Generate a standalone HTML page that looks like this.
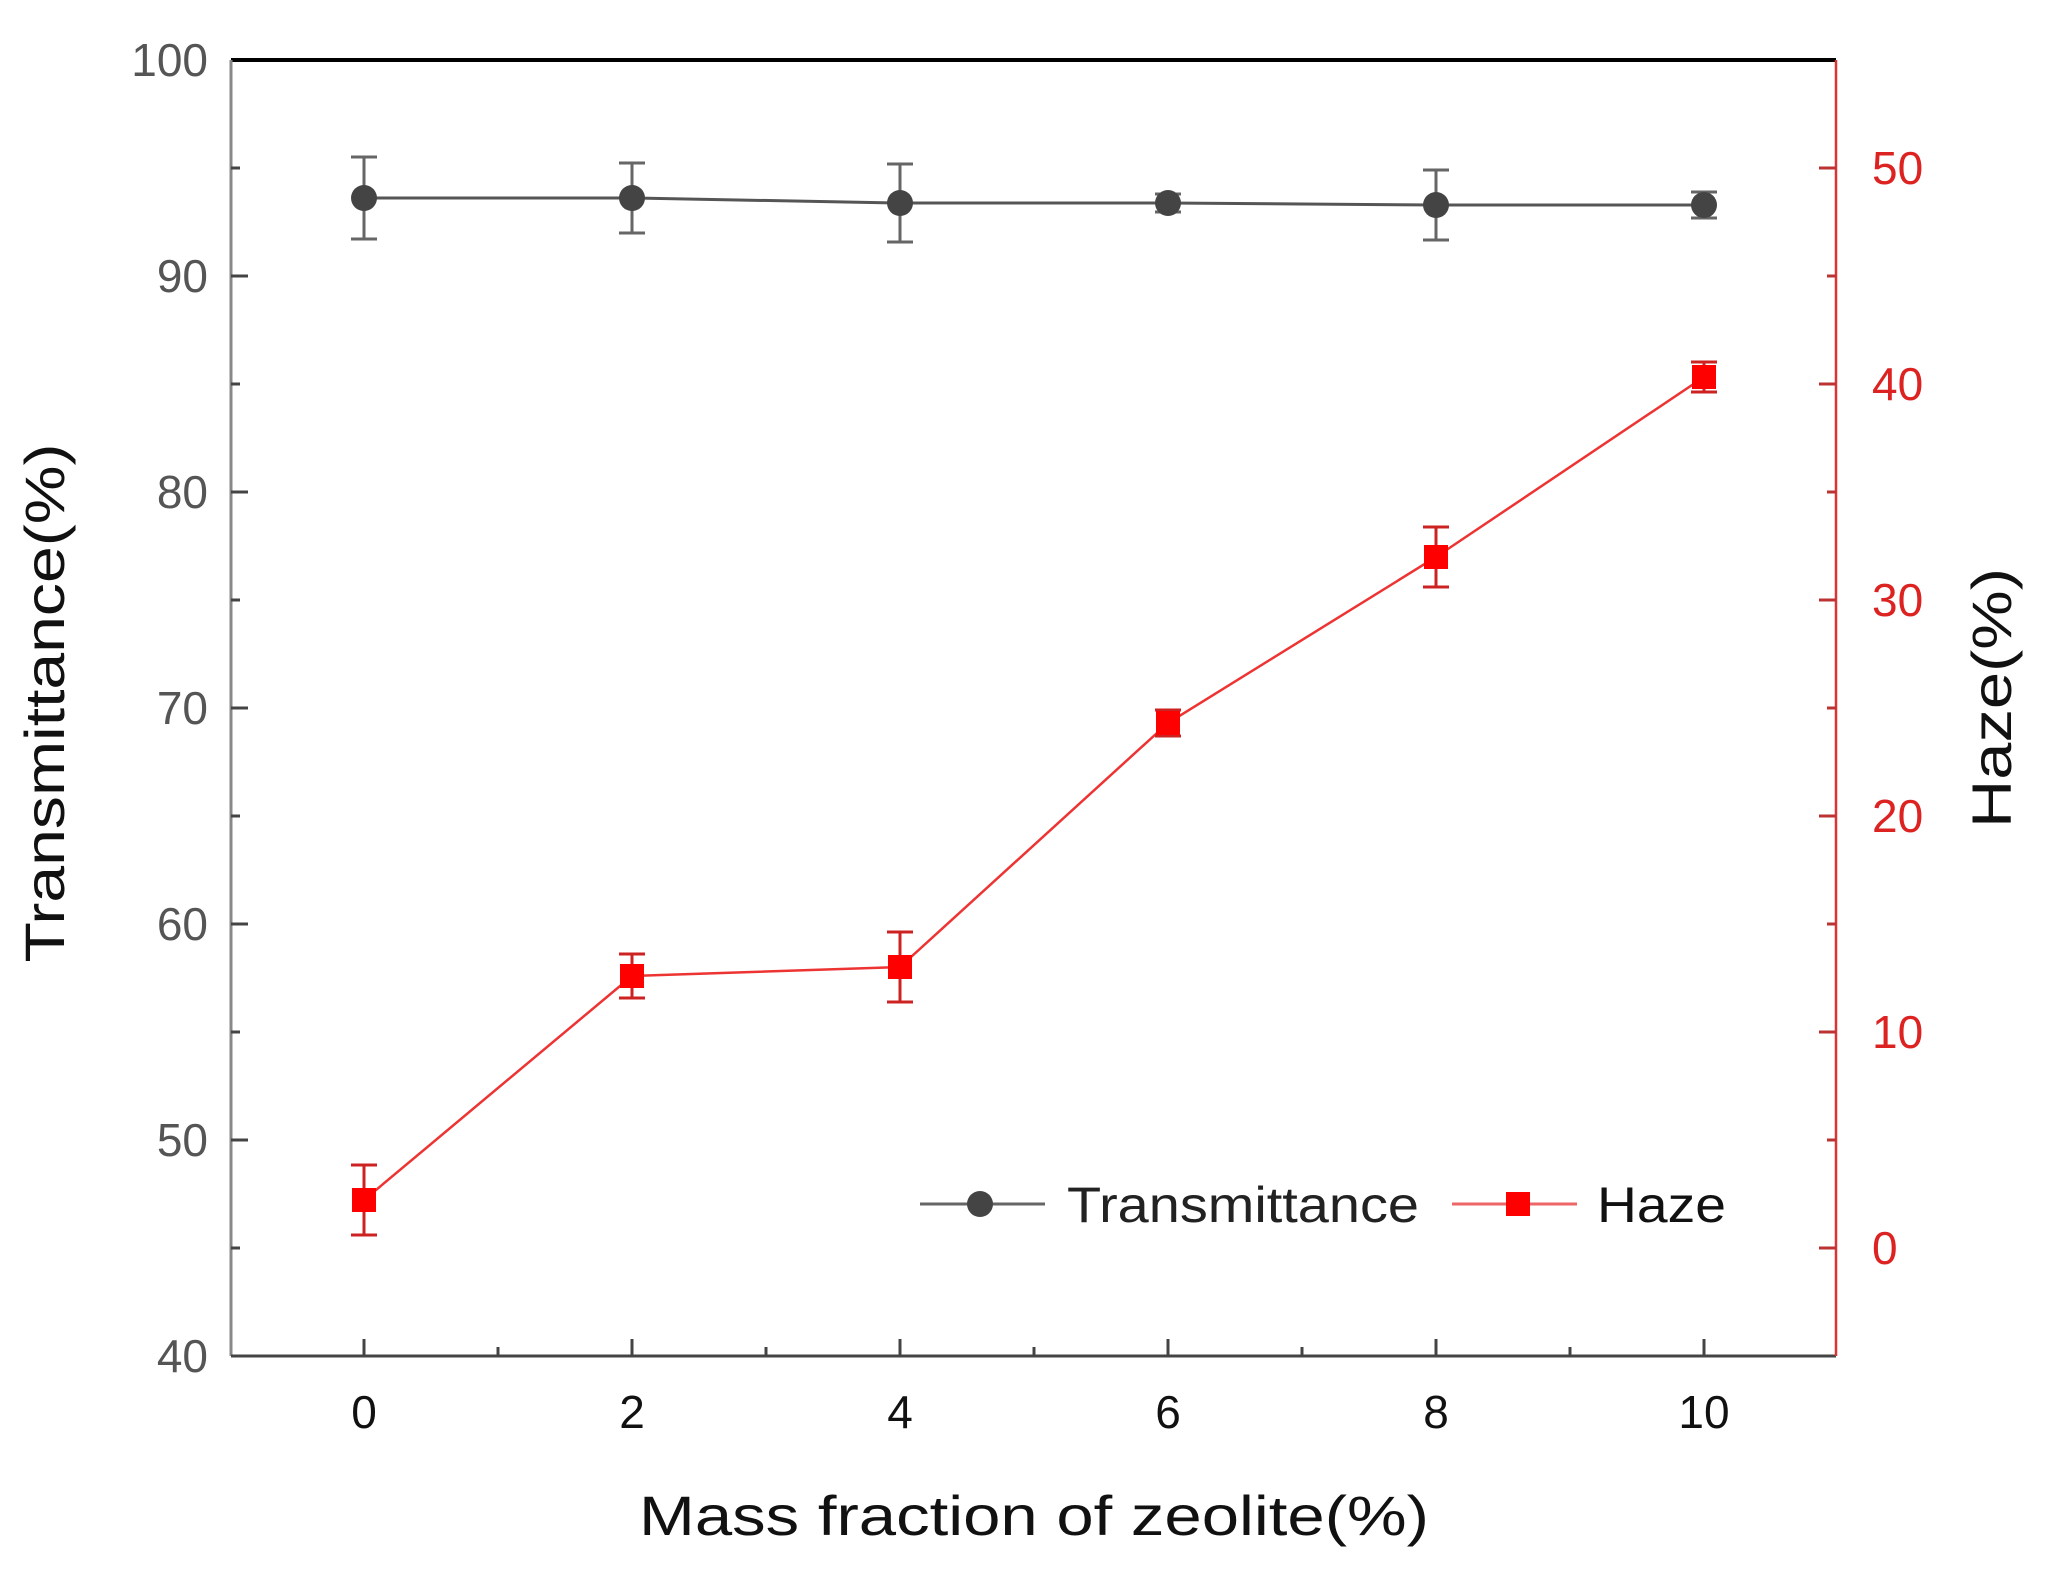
<!DOCTYPE html>
<html><head><meta charset="utf-8"><style>html,body{margin:0;padding:0;background:#fff}svg{display:block}</style></head>
<body>
<svg width="2060" height="1570" viewBox="0 0 2060 1570" xmlns="http://www.w3.org/2000/svg" font-family="Liberation Sans, Arial, sans-serif">
<rect width="2060" height="1570" fill="#fff"/>
<line x1="231" y1="60" x2="1836" y2="60" stroke="#000" stroke-width="4"/>
<line x1="231" y1="60" x2="231" y2="1356" stroke="#888" stroke-width="3"/>
<line x1="231" y1="1356" x2="1836" y2="1356" stroke="#444" stroke-width="3"/>
<line x1="1836" y1="60" x2="1836" y2="1356" stroke="#d33" stroke-width="2.5"/>
<g stroke="#444" stroke-width="3">
<line x1="231" y1="276" x2="248" y2="276"/><line x1="231" y1="492" x2="248" y2="492"/><line x1="231" y1="708" x2="248" y2="708"/><line x1="231" y1="924" x2="248" y2="924"/><line x1="231" y1="1140" x2="248" y2="1140"/>
<line x1="231" y1="168" x2="240" y2="168"/><line x1="231" y1="384" x2="240" y2="384"/><line x1="231" y1="600" x2="240" y2="600"/><line x1="231" y1="816" x2="240" y2="816"/><line x1="231" y1="1032" x2="240" y2="1032"/><line x1="231" y1="1248" x2="240" y2="1248"/>
<line x1="364" y1="1356" x2="364" y2="1339"/><line x1="632" y1="1356" x2="632" y2="1339"/><line x1="900" y1="1356" x2="900" y2="1339"/><line x1="1168" y1="1356" x2="1168" y2="1339"/><line x1="1436" y1="1356" x2="1436" y2="1339"/><line x1="1704" y1="1356" x2="1704" y2="1339"/>
<line x1="498" y1="1356" x2="498" y2="1347"/><line x1="766" y1="1356" x2="766" y2="1347"/><line x1="1034" y1="1356" x2="1034" y2="1347"/><line x1="1302" y1="1356" x2="1302" y2="1347"/><line x1="1570" y1="1356" x2="1570" y2="1347"/>
</g>
<g stroke="#b33" stroke-width="3">
<line x1="1836" y1="168" x2="1819" y2="168"/><line x1="1836" y1="384" x2="1819" y2="384"/><line x1="1836" y1="600" x2="1819" y2="600"/><line x1="1836" y1="816" x2="1819" y2="816"/><line x1="1836" y1="1032" x2="1819" y2="1032"/><line x1="1836" y1="1248" x2="1819" y2="1248"/>
<line x1="1836" y1="276" x2="1827" y2="276"/><line x1="1836" y1="492" x2="1827" y2="492"/><line x1="1836" y1="708" x2="1827" y2="708"/><line x1="1836" y1="924" x2="1827" y2="924"/><line x1="1836" y1="1140" x2="1827" y2="1140"/>
</g>
<g font-size="46" fill="#555" text-anchor="end">
<text x="208" y="76">100</text><text x="208" y="292">90</text><text x="208" y="508">80</text><text x="208" y="724">70</text><text x="208" y="940">60</text><text x="208" y="1156">50</text><text x="208" y="1372">40</text>
</g>
<g font-size="46" fill="#d22" text-anchor="start">
<text x="1872" y="184">50</text><text x="1872" y="400">40</text><text x="1872" y="616">30</text><text x="1872" y="832">20</text><text x="1872" y="1048">10</text><text x="1872" y="1264">0</text>
</g>
<g font-size="46" fill="#111" text-anchor="middle">
<text x="364" y="1428">0</text><text x="632" y="1428">2</text><text x="900" y="1428">4</text><text x="1168" y="1428">6</text><text x="1436" y="1428">8</text><text x="1704" y="1428">10</text>
</g>
<text x="1034" y="1535" font-size="56" fill="#111" text-anchor="middle" textLength="790" lengthAdjust="spacingAndGlyphs">Mass fraction of zeolite(%)</text>
<text transform="translate(64,703) rotate(-90)" font-size="56" fill="#111" text-anchor="middle" textLength="519" lengthAdjust="spacingAndGlyphs">Transmittance(%)</text>
<text transform="translate(2011,698) rotate(-90)" font-size="56" fill="#111" text-anchor="middle" textLength="260" lengthAdjust="spacingAndGlyphs">Haze(%)</text>
<polyline points="364,198 632,198 900,203 1168,203 1436,205 1704,205" fill="none" stroke="#555" stroke-width="3"/>
<g stroke="#666" stroke-width="3">
<line x1="364" y1="157" x2="364" y2="239"/><line x1="351" y1="157" x2="377" y2="157"/><line x1="351" y1="239" x2="377" y2="239"/>
<line x1="632" y1="163" x2="632" y2="233"/><line x1="619" y1="163" x2="645" y2="163"/><line x1="619" y1="233" x2="645" y2="233"/>
<line x1="900" y1="164" x2="900" y2="242"/><line x1="887" y1="164" x2="913" y2="164"/><line x1="887" y1="242" x2="913" y2="242"/>
<line x1="1168" y1="194" x2="1168" y2="212"/><line x1="1155" y1="194" x2="1181" y2="194"/><line x1="1155" y1="212" x2="1181" y2="212"/>
<line x1="1436" y1="170" x2="1436" y2="240"/><line x1="1423" y1="170" x2="1449" y2="170"/><line x1="1423" y1="240" x2="1449" y2="240"/>
<line x1="1704" y1="192" x2="1704" y2="218"/><line x1="1691" y1="192" x2="1717" y2="192"/><line x1="1691" y1="218" x2="1717" y2="218"/>
</g>
<g fill="#444">
<circle cx="364" cy="198" r="13"/><circle cx="632" cy="198" r="13"/><circle cx="900" cy="203" r="13"/><circle cx="1168" cy="203" r="13"/><circle cx="1436" cy="205" r="13"/><circle cx="1704" cy="205" r="13"/>
</g>
<polyline points="364,1200 632,976 900,967 1168,723 1436,557 1704,377" fill="none" stroke="#e33" stroke-width="2.5"/>
<g stroke="#c22" stroke-width="3">
<line x1="364" y1="1165" x2="364" y2="1235"/><line x1="351" y1="1165" x2="377" y2="1165"/><line x1="351" y1="1235" x2="377" y2="1235"/>
<line x1="632" y1="954" x2="632" y2="998"/><line x1="619" y1="954" x2="645" y2="954"/><line x1="619" y1="998" x2="645" y2="998"/>
<line x1="900" y1="932" x2="900" y2="1002"/><line x1="887" y1="932" x2="913" y2="932"/><line x1="887" y1="1002" x2="913" y2="1002"/>
<line x1="1168" y1="710" x2="1168" y2="736"/><line x1="1155" y1="710" x2="1181" y2="710"/><line x1="1155" y1="736" x2="1181" y2="736"/>
<line x1="1436" y1="527" x2="1436" y2="587"/><line x1="1423" y1="527" x2="1449" y2="527"/><line x1="1423" y1="587" x2="1449" y2="587"/>
<line x1="1704" y1="362" x2="1704" y2="392"/><line x1="1691" y1="362" x2="1717" y2="362"/><line x1="1691" y1="392" x2="1717" y2="392"/>
</g>
<g fill="#f00">
<rect x="352" y="1188" width="24" height="24"/><rect x="620" y="964" width="24" height="24"/><rect x="888" y="955" width="24" height="24"/><rect x="1156" y="711" width="24" height="24"/><rect x="1424" y="545" width="24" height="24"/><rect x="1692" y="365" width="24" height="24"/>
</g>
<line x1="920" y1="1204" x2="1045" y2="1204" stroke="#666" stroke-width="3"/>
<circle cx="980" cy="1204" r="13" fill="#444"/>
<text x="1067" y="1222" font-size="50" fill="#222" textLength="352" lengthAdjust="spacingAndGlyphs">Transmittance</text>
<line x1="1452" y1="1204" x2="1577" y2="1204" stroke="#e66" stroke-width="3"/>
<rect x="1506" y="1192" width="24" height="24" fill="#f00"/>
<text x="1597" y="1222" font-size="50" fill="#111" textLength="129" lengthAdjust="spacingAndGlyphs">Haze</text>
</svg>
</body></html>
